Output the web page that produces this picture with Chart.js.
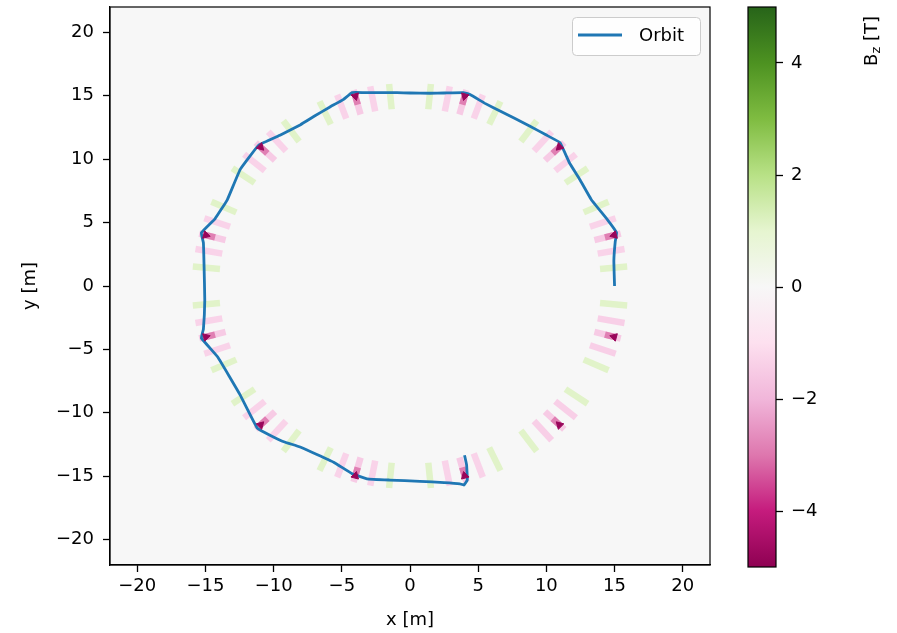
<!DOCTYPE html>
<html>
<head>
<meta charset="utf-8">
<script src="https://cdn.jsdelivr.net/npm/chart.js@4.4.0/dist/chart.umd.min.js"></script>
<style>
  html, body { margin: 0; padding: 0; background: #fff; }
  #wrap { position: relative; width: 897px; height: 633px; }
  #wrap canvas { position: absolute; left: 0; top: 0; }
</style>
</head>
<body>
<div id="wrap">
  <canvas id="main" width="897" height="633"></canvas>
  <canvas id="cbar" width="897" height="633"></canvas>
</div>
<script>
// Orbit track [m]
const orbitX = [15.0, 14.95, 15.05, 15.15, 14.5, 13.3, 12.45, 11.7, 11.0, 10.0, 8.8, 6.6, 5.5, 4.4, 3.9,
  2.5, 1.47, 0.0, -0.95, -2.2, -3.4, -4.25, -4.9, -5.9, -7.0, -8.06, -9.5, -11.1, -12.45, -13.4, -14.3, -15.3,
  -15.15, -15.1, -15.05, -15.15, -15.3, -14.1, -12.45, -11.2, -10.2, -9.2, -8.06, -5.6, -4.25, -3.15,
  -1.5, 0.73, 2.5, 3.66, 3.95, 4.2, 4.15, 4.0];
const orbitY = [0.0, 2.0, 3.5, 4.2, 5.2, 6.8, 8.4, 9.7, 11.3, 11.9, 12.6, 13.8, 14.4, 15.1, 15.25,
  15.22, 15.2, 15.22, 15.25, 15.25, 15.25, 15.25, 14.7, 14.1, 13.4, 12.7, 11.9, 11.1, 9.2, 6.8, 5.3, 4.2,
  3.4, 1.5, -1.1, -3.4, -4.1, -5.6, -8.6, -11.2, -11.8, -12.3, -12.7, -13.9, -14.8, -15.2,
  -15.3, -15.4, -15.5, -15.6, -15.7, -15.3, -14.1, -13.35];

// Field samples on the ring: angle [deg] and Bz [T]
const fieldAngle = [
  5.5, 10.5, 15, 19.5, 24.5,
  35.5, 40.5, 45, 49.5, 54.5,
  65.5, 70.5, 75, 79.5, 84.5,
  95.5, 100.5, 105, 109.5, 114.5,
  125.5, 130.5, 135, 139.5, 144.5,
  155.5, 160.5, 165, 169.5, 174.5,
  185.5, 190.5, 195, 199.5, 204.5,
  215.5, 220.5, 225, 229.5, 234.5,
  245.5, 250.5, 255, 259.5, 264.5,
  275.5, 280.5, 285, 289.5, 294.5,
  305.5, 310.5, 315, 319.5, 324.5,
  335.5, 340.5, 345, 349.5, 354.5];
const fieldBz = [
  1.1, -1.3, -1.5, -1.3, 1.1,
  1.1, -1.3, -1.5, -1.3, 1.1,
  1.1, -1.3, -1.5, -1.3, 1.1,
  1.1, -1.3, -1.5, -1.3, 1.1,
  1.1, -1.3, -1.5, -1.3, 1.1,
  1.1, -1.3, -1.5, -1.3, 1.1,
  1.1, -1.3, -1.5, -1.3, 1.1,
  1.1, -1.3, -1.5, -1.3, 1.1,
  1.1, -1.3, -1.5, -1.3, 1.1,
  1.1, -1.3, -1.5, -1.3, 1.1,
  1.1, -1.4, -1.5, -1.4, 1.1,
  1.1, -1.4, -1.5, -1.4, 1.1];

// Magnet cores: angle [deg] and peak Bz [T]
const coreAngle = [15, 45, 75, 105, 135, 165, 195, 225, 255, 285, 315, 345];
const coreBz = [-4.8, -4.8, -4.8, -4.8, -4.8, -4.8, -4.8, -4.8, -4.8, -4.8, -4.8, -4.8];

const axisTicks = [-20, -15, -10, -5, 0, 5, 10, 15, 20];
const cbarTicks = [-4, -2, 0, 2, 4];
const cbarMin = -5, cbarMax = 5;

// PiYG colormap anchors
const piyg = ['#8e0152', '#c51b7d', '#de77ae', '#f1b6da', '#fde0ef', '#f7f7f7',
  '#e6f5d0', '#b8e186', '#7fbc41', '#4d9221', '#276419'];

function hexRgb(h) {
  return [parseInt(h.slice(1, 3), 16), parseInt(h.slice(3, 5), 16), parseInt(h.slice(5, 7), 16)];
}
function cmap(v) {
  const t = Math.max(0, Math.min(1, (v - cbarMin) / (cbarMax - cbarMin))) * (piyg.length - 1);
  const i = Math.min(piyg.length - 2, Math.floor(t));
  const f = t - i;
  const a = hexRgb(piyg[i]), b = hexRgb(piyg[i + 1]);
  const c = a.map((x, k) => Math.round(x + (b[k] - x) * f));
  return `rgb(${c[0]},${c[1]},${c[2]})`;
}
const polar = (r, deg) => ({ x: r * Math.cos(deg * Math.PI / 180), y: r * Math.sin(deg * Math.PI / 180) });
const fmtTick = v => String(v).replace('-', '\u2212');

const FONT = 'DejaVu Sans';
Chart.defaults.font.family = FONT;
Chart.defaults.font.size = 18;
Chart.defaults.color = '#000';

// field dashes
const dashInner = 14.0, dashOuter = 16.0;
const fieldSets = fieldAngle.map((a, i) => ({
  label: 'field',
  data: [polar(dashInner, a), polar(dashOuter, a)],
  showLine: true,
  borderColor: cmap(fieldBz[i]),
  borderWidth: 6.5,
  borderCapStyle: 'butt',
  pointRadius: 0,
  order: 3
}));
const coreSets = coreAngle.map((a, i) => ({
  label: 'core',
  data: [polar(14.8, a), polar(15.5, a)],
  showLine: true,
  borderColor: cmap(coreBz[i] * 0.6),
  borderWidth: 6.5,
  borderCapStyle: 'butt',
  pointRadius: 0,
  order: 2
}));

// no extra label padding around the axes
const noPad = axis => { axis.paddingTop = 0; axis.paddingBottom = 0; axis.paddingLeft = 0; axis.paddingRight = 0; };

const plotBg = {
  id: 'plotBg',
  beforeDraw(chart) {
    const { ctx, chartArea: a } = chart;
    ctx.save();
    ctx.fillStyle = '#f7f7f7';
    ctx.fillRect(a.left, a.top, a.right - a.left, a.bottom - a.top);
    ctx.restore();
  },
  afterDraw(chart) {
    const { ctx, chartArea: a } = chart;
    ctx.save();
    ctx.strokeStyle = '#000';
    ctx.lineWidth = 1.2;
    ctx.strokeRect(a.left, a.top, a.right - a.left, a.bottom - a.top);
    // legend
    const w = 128, h = 38, x = a.right - 10 - w, y = a.top + 10;
    ctx.beginPath();
    ctx.roundRect(x + 0.5, y + 0.5, w, h, 4);
    ctx.fillStyle = 'rgba(255,255,255,0.8)';
    ctx.fill();
    ctx.strokeStyle = '#cccccc';
    ctx.lineWidth = 1;
    ctx.stroke();
    ctx.beginPath();
    ctx.moveTo(x + 6, y + 18);
    ctx.lineTo(x + 50, y + 18);
    ctx.strokeStyle = '#1f77b4';
    ctx.lineWidth = 2.8;
    ctx.stroke();
    ctx.fillStyle = '#000';
    ctx.font = `18px "${FONT}"`;
    ctx.textBaseline = 'middle';
    ctx.fillText('Orbit', x + 67, y + 19);
    ctx.restore();
  }
};

const axisCommon = {
  type: 'linear',
  min: -22,
  max: 22,
  afterBuildTicks: axis => { axis.ticks = axisTicks.map(v => ({ value: v })); },
  grid: { display: true, drawOnChartArea: false, drawTicks: true, tickLength: 7, tickWidth: 1.3, tickColor: '#000' },
  border: { display: true, color: '#000', width: 1.2 }
};

new Chart(document.getElementById('main'), {
  type: 'scatter',
  data: {
    datasets: [
      {
        label: 'Orbit',
        data: orbitX.map((x, i) => ({ x, y: orbitY[i] })),
        showLine: true,
        borderColor: '#1f77b4',
        borderWidth: 2.8,
        pointRadius: 0,
        tension: 0.08,
        order: 1
      },
      {
        label: 'cores',
        data: coreAngle.map(a => polar(15.5, a)),
        pointStyle: 'triangle',
        pointRadius: 4.5,
        rotation: coreAngle.map(a => -90 - a),
        backgroundColor: coreBz.map(cmap),
        borderColor: coreBz.map(cmap),
        borderWidth: 1,
        order: 0
      },
      ...coreSets,
      ...fieldSets
    ]
  },
  options: {
    responsive: false,
    animation: false,
    events: [],
    layout: { padding: { top: 7, right: 187, bottom: 0, left: 0 } },
    plugins: { legend: { display: false }, tooltip: { enabled: false } },
    scales: {
      x: {
        ...axisCommon,
        afterFit: axis => { axis.height = 68; noPad(axis); },
        ticks: { padding: 4, callback: fmtTick },
        title: { display: true, text: 'x [m]', padding: { top: 0, bottom: 2 } }
      },
      y: {
        ...axisCommon,
        afterFit: axis => { axis.width = 110; noPad(axis); },
        ticks: { padding: 9, callback: fmtTick },
        title: { display: true, text: 'y [m]', padding: { top: 20, bottom: 0 } }
      }
    }
  },
  plugins: [plotBg]
});

// Colorbar
const cbarPaint = {
  id: 'cbarPaint',
  beforeDraw(chart) {
    const { ctx, chartArea: a } = chart;
    const g = ctx.createLinearGradient(0, a.bottom, 0, a.top);
    piyg.forEach((c, i) => g.addColorStop(i / (piyg.length - 1), c));
    ctx.save();
    ctx.fillStyle = g;
    ctx.fillRect(a.left, a.top, a.right - a.left, a.bottom - a.top);
    ctx.restore();
  },
  afterDraw(chart) {
    const { ctx, chartArea: a } = chart;
    ctx.save();
    ctx.strokeStyle = '#000';
    ctx.lineWidth = 1.2;
    ctx.strokeRect(a.left, a.top, a.right - a.left, a.bottom - a.top);
    // label B_z [T], rotated, anchored near the top
    ctx.translate(877, 16);
    ctx.rotate(-Math.PI / 2);
    ctx.fillStyle = '#000';
    ctx.textBaseline = 'alphabetic';
    const big = `18px "${FONT}"`, small = `13px "${FONT}"`;
    ctx.font = big; const wB = ctx.measureText('B').width; const wT = ctx.measureText(' [T]').width;
    ctx.font = small; const wz = ctx.measureText('z').width;
    let x = -(wB + wz + wT);
    ctx.font = big; ctx.fillText('B', x, 0); x += wB;
    ctx.font = small; ctx.fillText('z', x, 3); x += wz;
    ctx.font = big; ctx.fillText(' [T]', x, 0);
    ctx.restore();
  }
};

new Chart(document.getElementById('cbar'), {
  type: 'scatter',
  data: { datasets: [] },
  options: {
    responsive: false,
    animation: false,
    events: [],
    layout: { padding: { top: 7, right: 61, bottom: 66, left: 748 } },
    plugins: { legend: { display: false }, tooltip: { enabled: false } },
    scales: {
      x: { display: false, min: 0, max: 1 },
      y: {
        type: 'linear',
        position: 'right',
        min: cbarMin,
        max: cbarMax,
        afterBuildTicks: axis => { axis.ticks = cbarTicks.map(v => ({ value: v })); },
        afterFit: axis => { axis.width = 60; noPad(axis); },
        ticks: { padding: 8, callback: fmtTick },
        grid: { display: true, drawOnChartArea: false, drawTicks: true, tickLength: 7, tickWidth: 1.3, tickColor: '#000' },
        border: { display: false }
      }
    }
  },
  plugins: [cbarPaint]
});
</script>
</body>
</html>
